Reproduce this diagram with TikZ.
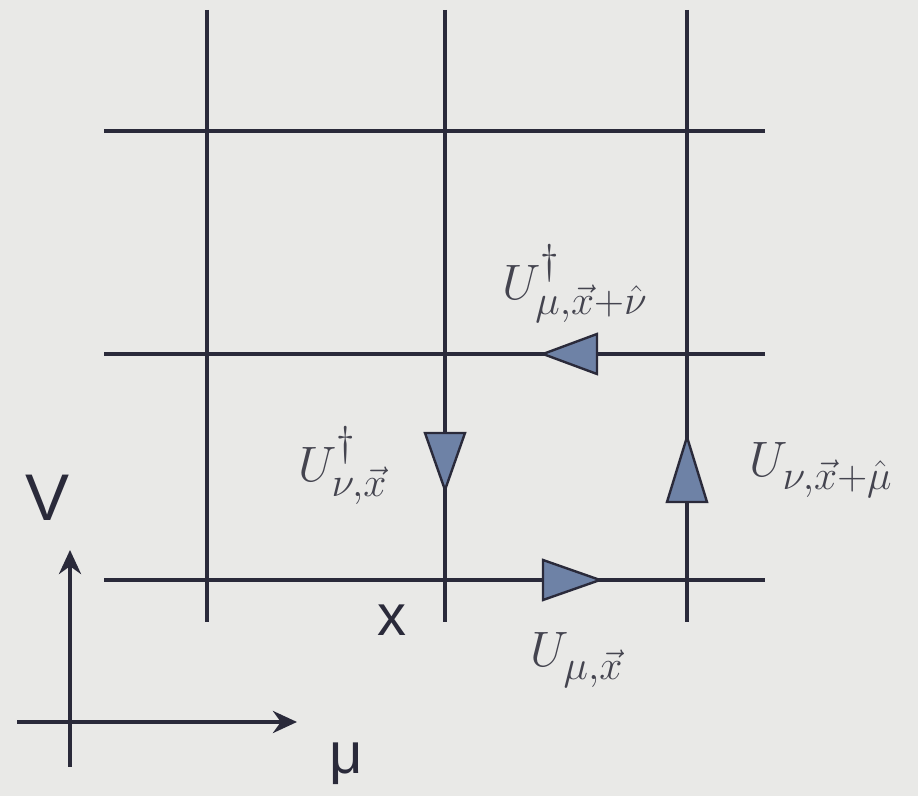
\documentclass[tikz,border=0pt]{standalone}
\usepackage{fontspec}
\usetikzlibrary{arrows.meta}
\newfontfamily\labelsans{Liberation Sans}
\definecolor{bgc}{HTML}{E9E9E7}
\definecolor{linec}{HTML}{2A2A3A}
\definecolor{tric}{HTML}{6E82A6}
\definecolor{textc}{HTML}{44444F}
\tikzset{
  gridline/.style={draw=linec, line width=2.1pt},
  linktri/.style={draw=linec, fill=tric, line width=1.2pt, line join=miter},
  mathlabel/.style={text=textc, font=\fontsize{31}{36}\selectfont, inner sep=0pt},
  sanslabel/.style={text=linec, font=\labelsans\fontsize{29}{34}\selectfont, inner sep=0pt},
  axisarrow/.style={draw=linec, line width=2pt, -{Stealth[length=12pt,width=11pt]}}
}
\begin{document}
\begin{tikzpicture}[x=0.5pt, y=-0.5pt]
  \fill[bgc] (0,0) rectangle (918,796);
  \useasboundingbox (0,0) rectangle (918,796);
  % grid end points
  \coordinate (v1t) at (207,10);  \coordinate (v1b) at (207,622);
  \coordinate (v2t) at (445,10);  \coordinate (v2b) at (445,622);
  \coordinate (v3t) at (687,10);  \coordinate (v3b) at (687,622);
  \coordinate (h1l) at (104,131); \coordinate (h1r) at (765,131);
  \coordinate (h2l) at (104,354); \coordinate (h2r) at (765,354);
  \coordinate (h3l) at (104,580); \coordinate (h3r) at (765,580);
  \draw[gridline] (v1t) -- (v1b);
  \draw[gridline] (v2t) -- (v2b);
  \draw[gridline] (v3t) -- (v3b);
  \draw[gridline] (h1l) -- (h1r);
  \draw[gridline] (h2l) -- (h2r);
  \draw[gridline] (h3l) -- (h3r);
  % link arrows (triangles)
  \coordinate (ta1) at (543,560); \coordinate (ta2) at (543,600); \coordinate (ta3) at (600,580);
  \draw[linktri] (ta1) -- (ta2) -- (ta3) -- cycle;
  \coordinate (tb1) at (597,334); \coordinate (tb2) at (597,374); \coordinate (tb3) at (543,354);
  \draw[linktri] (tb1) -- (tb2) -- (tb3) -- cycle;
  \coordinate (tc1) at (425,433); \coordinate (tc2) at (465,433); \coordinate (tc3) at (445,490);
  \draw[linktri] (tc1) -- (tc2) -- (tc3) -- cycle;
  \coordinate (td1) at (667,502); \coordinate (td2) at (707,502); \coordinate (td3) at (687,437);
  \draw[linktri] (td1) -- (td2) -- (td3) -- cycle;
  % labels
  \node[mathlabel] (lb1) at (575,284) {$U^{\dagger}_{\mu,\vec{x}+\hat{\nu}}$};
  \node[mathlabel] (lb2) at (343,466) {$U^{\dagger}_{\nu,\vec{x}}$};
  \node[mathlabel] (lb3) at (821,470) {$U_{\nu,\vec{x}+\hat{\mu}}$};
  \node[mathlabel] (lb4) at (577,660) {$U_{\mu,\vec{x}}$};
  % axes
  \coordinate (ay0) at (70,767); \coordinate (ay1) at (70,550);
  \coordinate (ax0) at (17,722); \coordinate (ax1) at (297,722);
  \draw[axisarrow] (ay0) -- (ay1);
  \draw[axisarrow] (ax0) -- (ax1);
  \node[sanslabel, font=\labelsans\fontsize{33}{38}\selectfont] (nu) at (48,498) {V};
  \node[sanslabel] (mu) at (346,764) {μ};
  \node[sanslabel] (xl) at (392,620) {x};
\end{tikzpicture}
\end{document}
